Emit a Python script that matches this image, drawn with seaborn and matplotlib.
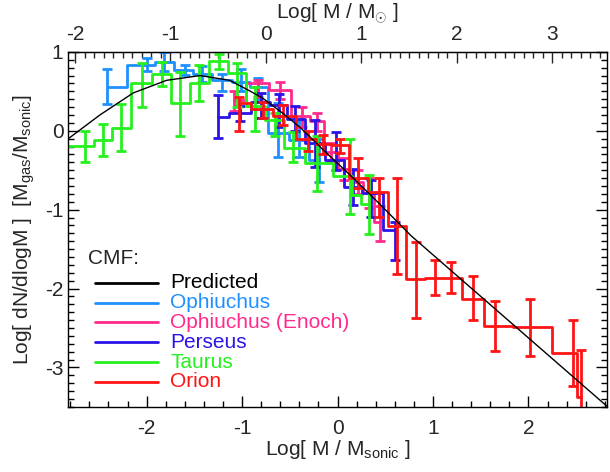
import numpy as np
import matplotlib
matplotlib.use("Agg")
import matplotlib.pyplot as plt
import seaborn as sns
from matplotlib.ticker import MultipleLocator, FixedLocator

# predicted CMF
pred_x = [-2.82, -2.49, -2.14, -1.79, -1.44, -1.13, -0.91, -0.78, -0.56, -0.38, -0.16,
          0.14, 0.46, 0.77, 2.83]
pred_y = [-0.10, 0.20, 0.48, 0.64, 0.70, 0.64, 0.50, 0.41, 0.21, 0.03, -0.23,
          -0.57, -0.95, -1.33, -3.50]

# Ophiuchus
oph_x = [-2.42, -2.00, -1.82, -1.60, -1.42, -1.21, -1.01, -0.83, -0.62, -0.40, -0.19]
oph_y = [0.56, 0.835, 0.877, 0.77, 0.72, 0.645, 0.62, 0.55, -0.03, -0.12, -0.37]
oph_hi = [0.78, 0.92, 1.00, 0.835, 0.82, 0.72, 0.78, 0.67, 0.35, 0.12, -0.10]
oph_lo = [0.34, 0.76, 0.76, 0.71, 0.62, 0.50, 0.50, 0.39, -0.33, -0.33, -0.65]

# Ophiuchus (Enoch)
eno_x = [-1.08, -0.83, -0.60, -0.37, -0.21, -0.07, 0.07, 0.21, 0.33, 0.44]
eno_y = [0.39, 0.61, 0.52, 0.19, 0.12, -0.27, -0.49, -0.65, -0.79, -1.15]
eno_hi = [0.50, 0.65, 0.62, 0.30, 0.22, -0.15, -0.35, -0.50, -0.60, -0.95]
eno_lo = [0.25, 0.43, 0.40, 0.05, 0.00, -0.40, -0.62, -0.80, -0.98, -1.40]

# Perseus
per_x = [-1.25, -1.02, -0.80, -0.61, -0.45, -0.24, -0.02, 0.16, 0.35, 0.60]
per_y = [0.18, 0.22, 0.37, 0.33, 0.15, -0.16, -0.37, -0.71, -0.79, -1.26]
per_hi = [0.45, 0.32, 0.48, 0.47, 0.31, 0.14, -0.02, -0.48, -0.63, -1.15]
per_lo = [-0.085, 0.12, 0.16, 0.05, 0.00, -0.46, -0.50, -0.94, -1.09, -1.64]

# Taurus
tau_x = [-2.86, -2.65, -2.46, -2.27, -2.05, -1.84, -1.65, -1.45, -1.24, -1.05, -0.86,
         -0.66, -0.47, -0.22, 0.13, 0.17, 0.33]
tau_y = [-0.19, -0.19, -0.12, 0.04, 0.60, 0.72, 0.35, 0.60, 0.88, 0.73, 0.31,
         0.14, -0.22, -0.41, -0.57, -0.82, -0.93]
tau_hi = [-0.19, 0.00, 0.08, 0.34, 0.86, 0.87, 0.74, 0.835, 0.97, 0.86, 0.56,
          0.22, -0.01, -0.07, -0.10, -0.82, -0.56]
tau_lo = [-0.19, -0.40, -0.32, -0.25, 0.30, 0.57, -0.06, 0.38, 0.78, 0.30, 0.00,
          -0.07, -0.39, -0.76, -1.06, -0.82, -1.31]

# Orion
ori_x = [-1.03, -0.78, -0.57, -0.31, -0.15, 0.03, 0.21, 0.43, 0.62, 0.82, 1.02,
         1.19, 1.42, 1.65, 2.02, 2.47, 2.55]
ori_y = [0.35, 0.27, 0.19, -0.10, -0.17, -0.18, -0.60, -0.77, -1.21, -1.885, -1.865,
         -1.865, -2.13, -2.47, -2.49, -2.82, -3.37]
ori_hi = [0.43, 0.37, 0.33, 0.00, -0.05, -0.10, -0.35, -0.60, -0.60, -1.41, -1.64,
          -1.66, -1.84, -2.16, -2.13, -2.40, -2.78]
ori_lo = [0.00, 0.16, 0.07, -0.25, -0.30, -0.28, -0.73, -1.09, -1.82, -2.37, -2.08,
          -2.06, -2.40, -2.79, -2.85, -3.23, -3.60]

legend_names = ["Predicted", "Ophiuchus", "Ophiuchus (Enoch)", "Perseus", "Taurus", "Orion"]
legend_colors = ["black", "#1e90ff", "#ff2a8c", "#2a14e6", "#26f01e", "#ff1414"]
c_oph, c_eno, c_per, c_tau, c_ori = legend_colors[1:]

sun_offset = 0.75  # log M_sun = log M_sonic + offset

sns.set_style("white")
plt.rcParams["font.family"] = ["Liberation Sans", "DejaVu Sans"]
plt.rcParams["mathtext.fontset"] = "custom"
plt.rcParams["mathtext.rm"] = "Liberation Sans"
plt.rcParams["mathtext.it"] = "Liberation Sans"
plt.rcParams["axes.unicode_minus"] = False

fig = plt.figure(figsize=(6.10, 4.72), dpi=100)
ax = fig.add_axes([0.112, 0.138, 0.8826, 0.752])

series = [
    (oph_x, oph_y, oph_hi, oph_lo, c_oph),
    (eno_x, eno_y, eno_hi, eno_lo, c_eno),
    (per_x, per_y, per_hi, per_lo, c_per),
    (tau_x, tau_y, tau_hi, tau_lo, c_tau),
    (ori_x, ori_y, ori_hi, ori_lo, c_ori),
]
for xs, ys, hi, lo, col in series:
    xs, ys, hi, lo = map(np.asarray, (xs, ys, hi, lo))
    sns.lineplot(x=xs, y=ys, ax=ax, color=col, lw=2.0, drawstyle="steps-mid",
                 sort=False, estimator=None)
    ax.errorbar(xs, ys, yerr=[ys - lo, hi - ys], fmt="none", ecolor=col,
                elinewidth=2.0, capsize=3.5, capthick=2.0)

sns.lineplot(x=pred_x, y=pred_y, ax=ax, color="black", lw=1.0, sort=False, estimator=None)

ax.set_xlim(-2.82, 2.82)
ax.set_ylim(-3.5, 1.0)
ax.xaxis.set_major_locator(MultipleLocator(1))
ax.xaxis.set_minor_locator(MultipleLocator(0.2))
ax.yaxis.set_major_locator(MultipleLocator(1))
ax.yaxis.set_minor_locator(MultipleLocator(0.1))
ax.tick_params(which="both", direction="in", top=False, right=True, left=True, bottom=True,
               labelsize=15, width=1.0, color="black")
ax.tick_params(axis="x", which="major", pad=9)
ax.tick_params(which="major", length=8)
ax.tick_params(which="minor", length=4)
for s in ax.spines.values():
    s.set_color("black")
    s.set_linewidth(1.0)

ax.set_xlabel(r"Log[ M / M$_{\rm sonic}$ ]", fontsize=15, labelpad=0)
ax.set_ylabel(r"Log[ dN/dlogM ]  [M$_{\rm gas}$/M$_{\rm sonic}$]", fontsize=15, labelpad=6)

top = ax.secondary_xaxis("top", functions=(lambda v: v + sun_offset, lambda v: v - sun_offset))
top.xaxis.set_major_locator(FixedLocator([-2, -1, 0, 1, 2, 3]))
top.xaxis.set_minor_locator(MultipleLocator(0.1))
top.tick_params(which="both", direction="in", labelsize=15, width=1.0, pad=6)
top.tick_params(which="major", length=8)
top.tick_params(which="minor", length=4)
top.set_xlabel(r"Log[ M / M$_{\odot}$ ]", fontsize=15, labelpad=4)

# legend drawn by hand so the rows sit as tight as in the original
ax.text(0.037, 0.419, "CMF:", transform=ax.transAxes, fontsize=15, va="center", ha="left")
row_y = [0.349, 0.294, 0.239, 0.182, 0.126, 0.071]
for name, col, yy in zip(legend_names, legend_colors, row_y):
    ax.plot([0.050, 0.167], [yy, yy], transform=ax.transAxes, color=col, lw=2.0)
    ax.text(0.189, yy, name, transform=ax.transAxes, fontsize=15, color=col,
            va="center", ha="left")

fig.savefig("out.png", dpi=100)
